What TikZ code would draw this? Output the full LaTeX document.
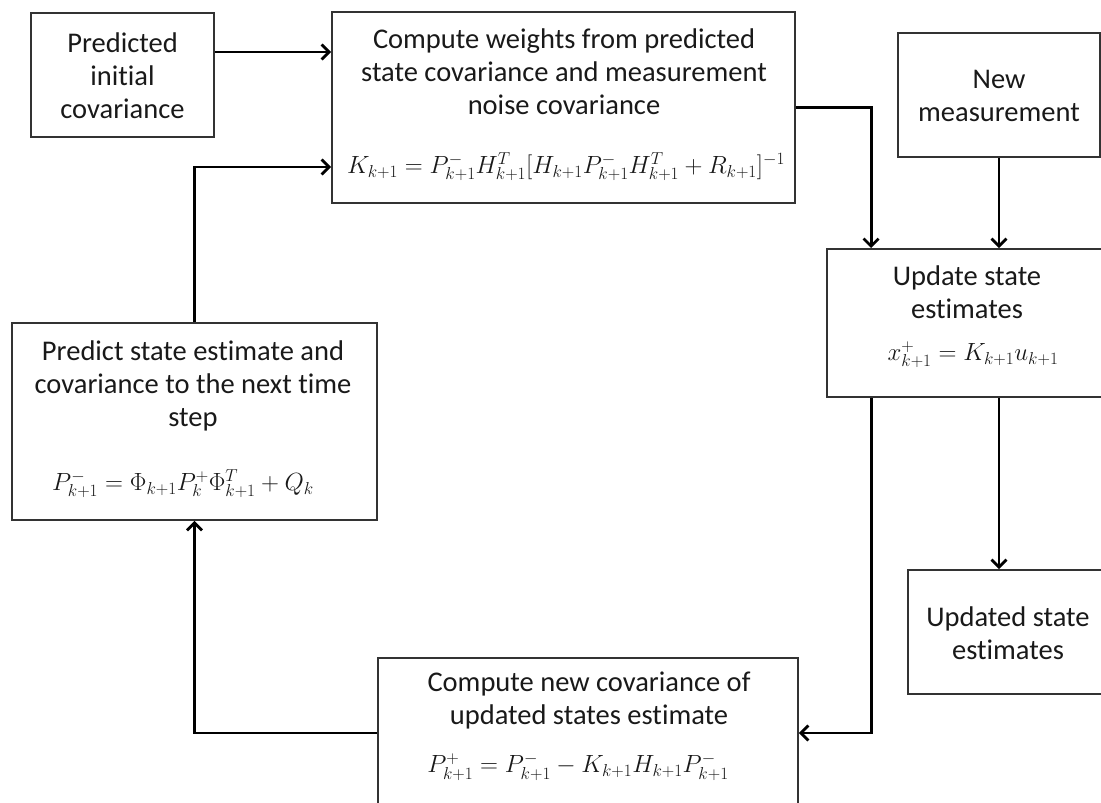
\documentclass[tikz,border=0pt]{standalone}
\usepackage{fontspec}
\setmainfont{Carlito}[Ligatures=NoCommon]
\DeclareMathSizes{24}{24}{18.5}{14}
\usetikzlibrary{arrows.meta,calc}
\begin{document}
\begin{tikzpicture}[x=1pt,y=-1pt,
  boxstyle/.style={draw=black!80,line width=1.8pt,rectangle,inner sep=0pt},
  txt/.style={align=center,font=\fontsize{28.5}{33}\selectfont,text=black!90,inner sep=0pt},
  eq/.style={font=\fontsize{24}{29}\selectfont,text=black!90,inner sep=0pt},
  arr/.style={line width=2.8pt,-{Straight Barb[length=7.5pt,width=15pt]}},
  ln/.style={line width=2.8pt}]
\useasboundingbox (0,0) rectangle (1101,803);
\clip (0,0) rectangle (1101,803);
% boxes
\node[boxstyle,minimum width=183pt,minimum height=124pt] (init) at (122.5,75) {};
\node[boxstyle,minimum width=463pt,minimum height=191pt] (weights) at (563.5,107.5) {};
\node[boxstyle,minimum width=202pt,minimum height=124pt] (meas) at (999,95) {};
\node[boxstyle,minimum width=281pt,minimum height=148pt] (update) at (967.5,323) {};
\node[boxstyle,minimum width=200pt,minimum height=124pt] (updated) at (1008,632) {};
\node[boxstyle,minimum width=365pt,minimum height=197pt] (predict) at (194.5,421.5) {};
\node[boxstyle,minimum width=420pt,minimum height=150pt] (newcov) at (588,733) {};
% texts
\node[txt] (initT) at (122.5,76) {Predicted\\initial\\covariance};
\node[txt] (weightsT) at (564,72) {Compute weights from predicted\\state covariance and measurement\\noise covariance};
\node[eq] (weightsE) at (566,167) {$K_{k+1}=P^{-}_{k+1}H^{T}_{k+1}[H_{k+1}P^{-}_{k+1}H^{T}_{k+1}+R_{k+1}]^{-1}$};
\node[txt] (measT) at (999,96) {New\\measurement};
\node[txt] (updateT) at (967,292) {Update state\\estimates};
\node[eq] (updateE) at (973,355) {$x^{+}_{k+1}=K_{k+1}u_{k+1}$};
\node[txt] (updatedT) at (1008,633) {Updated state\\estimates};
\node[txt] (predictT) at (193,386) {Predict state estimate and\\covariance to the next time\\step};
\node[eq] (predictE) at (183,484) {$P^{-}_{k+1}=\Phi_{k+1}P^{+}_{k}\Phi^{T}_{k+1}+Q_{k}$};
\node[txt] (newcovT) at (589,700) {Compute new covariance of\\updated states estimate};
\node[eq] (newcovE) at (578,767) {$P^{+}_{k+1}=P^{-}_{k+1}-K_{k+1}H_{k+1}P^{-}_{k+1}$};
% helper coordinates
\coordinate (a1) at ([yshift=23pt]init.east);
\coordinate (w2) at ([yshift=-59.5pt]weights.west);
\coordinate (u1) at ([xshift=45pt]update.north west);
\coordinate (u2) at ([xshift=45pt]update.south west);
% connectors
\draw[arr] (a1) -- (a1 -| weights.west);
\draw[arr] (weights.east) -| (u1);
\draw[arr] (meas.south) -- (meas.south |- update.north);
\draw[arr] (u2) |- (newcov.east);
\draw[arr] (meas.south |- update.south) -- (meas.south |- updated.north);
\draw[arr] (newcov.west) -| (predict.south);
\draw[arr] (predict.north) |- (w2);
\end{tikzpicture}
\end{document}
